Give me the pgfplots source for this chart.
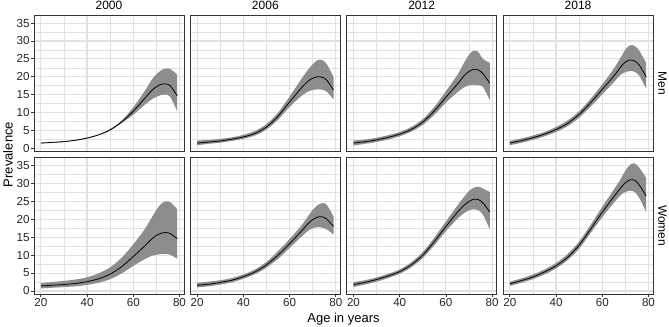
\documentclass[border=0pt]{standalone}
\usepackage{pgfplots}
\pgfplotsset{compat=1.18}
\usepackage{pgfplotstable}
\usepgfplotslibrary{groupplots,fillbetween}
\usepackage{fontspec}
\setmainfont{Liberation Sans}

\definecolor{gridc}{HTML}{E1E1E1}
\definecolor{bordc}{HTML}{333333}
\definecolor{ribbonc}{HTML}{8D8D8D}
\definecolor{tickc}{HTML}{333333}

% prevalence by age: fitted value with lower and upper bound
\pgfplotstableread{
age fit lo hi
20 1.5 1.4 1.6
25 1.7 1.6 1.8
30 1.9 1.8 2.0
35 2.3 2.2 2.4
40 2.9 2.8 3.0
45 3.8 3.7 3.9
50 5.2 5.0 5.4
55 7.4 7.1 7.8
60 10.4 9.4 11.5
65 14.0 12.2 16.1
68 16.2 13.7 19.2
70 17.2 14.4 20.7
72 17.9 14.9 21.8
74 18.0 15.0 22.3
76 17.5 14.4 22.2
79 14.7 10.4 20.6
}\menA
\pgfplotstableread{
age fit lo hi
20 1.5 0.9 2.2
25 1.8 1.3 2.4
30 2.1 1.6 2.7
35 2.6 2.1 3.1
40 3.2 2.7 3.8
45 4.2 3.6 4.9
50 6.0 5.3 6.8
55 9.0 8.0 10.0
60 13.0 11.6 14.5
65 16.8 14.6 19.3
68 18.8 15.9 22.0
70 19.6 16.3 23.5
72 20.0 16.5 24.6
74 19.9 16.4 24.7
76 19.1 15.9 23.6
79 16.3 13.7 20.0
}\menB
\pgfplotstableread{
age fit lo hi
20 1.5 0.8 2.2
25 1.9 1.3 2.5
30 2.4 1.8 3.0
35 3.1 2.5 3.7
40 4.0 3.4 4.6
45 5.3 4.7 6.0
50 7.4 6.6 8.2
55 10.5 9.4 11.6
60 14.3 12.8 16.0
65 18.0 15.7 20.6
68 20.4 17.1 24.1
70 21.5 17.6 26.2
72 22.1 17.8 27.3
74 21.9 17.6 26.9
76 20.9 17.2 25.0
79 18.2 13.5 23.9
}\menC
\pgfplotstableread{
age fit lo hi
20 1.5 0.9 2.1
25 2.2 1.6 2.8
30 3.0 2.4 3.6
35 4.0 3.4 4.6
40 5.3 4.6 6.0
45 7.0 6.2 7.8
50 9.5 8.6 10.4
55 12.8 11.7 13.9
60 16.5 15.1 17.9
65 20.2 18.5 22.3
68 22.8 20.6 25.4
70 24.1 21.3 27.6
72 24.7 21.6 28.8
74 24.4 21.4 28.6
76 23.3 20.3 27.3
79 20.0 16.7 23.9
}\menD
\pgfplotstableread{
age fit lo hi
20 1.4 0.7 2.2
25 1.6 0.9 2.5
30 1.8 1.1 2.8
35 2.1 1.3 3.2
40 2.6 1.7 3.8
45 3.4 2.3 4.9
50 4.7 3.3 6.6
55 6.8 4.9 9.3
60 9.6 7.0 13.0
65 12.6 8.9 17.3
68 14.5 9.8 20.5
70 15.5 10.1 22.6
72 16.1 10.3 24.3
74 16.3 10.3 25.0
76 16.0 10.1 24.8
79 14.6 9.0 22.8
}\womA
\pgfplotstableread{
age fit lo hi
20 1.6 1.0 2.3
25 1.9 1.3 2.6
30 2.4 1.8 3.0
35 3.0 2.4 3.6
40 4.0 3.4 4.6
45 5.3 4.7 6.0
50 7.3 6.5 8.1
55 10.0 9.0 11.1
60 13.2 12.0 14.5
65 16.6 15.1 18.2
68 18.8 16.8 20.9
70 19.9 17.5 22.6
72 20.6 17.8 23.9
74 20.7 17.7 24.5
76 20.1 17.2 24.1
79 18.0 15.8 20.8
}\womB
\pgfplotstableread{
age fit lo hi
20 1.8 1.1 2.5
25 2.4 1.8 3.0
30 3.2 2.6 3.8
35 4.2 3.6 4.8
40 5.4 4.8 6.0
45 7.3 6.6 8.0
50 10.0 9.2 10.9
55 13.8 12.8 14.9
60 18.0 16.7 19.4
65 22.0 20.2 23.9
68 24.0 21.8 26.4
70 25.0 22.5 27.9
72 25.6 22.8 28.8
74 25.5 22.5 29.1
76 24.6 21.3 28.6
79 22.0 17.2 27.6
}\womC
\pgfplotstableread{
age fit lo hi
20 2.0 1.4 2.6
25 2.9 2.3 3.5
30 3.9 3.3 4.6
35 5.3 4.6 6.0
40 7.0 6.3 7.8
45 9.4 8.6 10.3
50 12.8 11.8 13.8
55 17.3 16.2 18.5
60 22.0 20.6 23.5
65 26.3 24.6 28.3
68 28.8 26.8 31.3
70 30.2 27.6 33.6
72 31.0 28.0 35.2
74 30.9 27.6 35.6
76 29.6 26.0 34.4
79 26.5 22.0 31.5
}\womD

\newcommand\panel[1]{%
  \addplot[name path=hi, draw=none, smooth] table[x=age, y=hi] {#1};
  \addplot[name path=lo, draw=none, smooth] table[x=age, y=lo] {#1};
  \addplot[fill=ribbonc, draw=none] fill between[of=hi and lo];
  \addplot[black, line width=0.8pt, smooth] table[x=age, y=fit] {#1};
}

\pgfplotsset{
  every axis title shift=0pt,
  facet/.style={
    width=150pt, height=136.5pt, scale only axis,
    xmin=17.05, xmax=81.95, ymin=-0.85, ymax=37.25,
    xtick={20,40,60,80}, minor xtick={30,50,70},
    ytick={0,5,...,35}, minor ytick={2.5,7.5,...,32.5},
    grid=both,
    major grid style={draw=gridc, line width=1.1pt},
    minor grid style={draw=gridc, line width=0.6pt},
    axis line style={draw=bordc, line width=0.9pt},
    tick pos=left, tick align=outside,
    major tick length=3pt, minor tick length=0pt,
    major tick style={draw=tickc, line width=0.8pt},
    /pgf/number format/assume math mode=true,
    tick label style={font=\fontsize{11.6}{12}\selectfont, text=black!85},
    xticklabel style={inner sep=0pt, yshift=-1.2pt},
    yticklabel style={inner sep=0pt, xshift=-1.2pt},
    title style={at={(0.5,1)}, anchor=base, yshift=5.6pt, inner sep=0pt,
      font=\fontsize{12}{13}\selectfont},
  },
  noyt/.style={ytick style={draw=none}},
  noxt/.style={xtick style={draw=none}},
}

\begin{document}
\begin{tikzpicture}
\begin{groupplot}[
  group style={group size=4 by 2, horizontal sep=6.33pt, vertical sep=6pt,
    xticklabels at=edge bottom, yticklabels at=edge left},
  facet]
\nextgroupplot[title={2000}, noxt]
\panel{\menA}
\nextgroupplot[title={2006}, noxt, noyt]
\panel{\menB}
\nextgroupplot[title={2012}, noxt, noyt]
\panel{\menC}
\nextgroupplot[title={2018}, noxt, noyt]
\panel{\menD}
\nextgroupplot
\panel{\womA}
\nextgroupplot[noyt]
\panel{\womB}
\nextgroupplot[noyt]
\panel{\womC}
\nextgroupplot[noyt]
\panel{\womD}
\end{groupplot}

% facet strips on the right
\node[rotate=-90, font=\fontsize{12}{13}\selectfont]
  at ([xshift=9.5pt]group c4r1.east) {Men};
\node[rotate=-90, font=\fontsize{12}{13}\selectfont]
  at ([xshift=9.5pt]group c4r2.east) {Women};

% axis titles
\path (group c1r1.south west) -- (group c1r2.north west)
  node[midway, xshift=-26pt, rotate=90, font=\fontsize{13}{14}\selectfont] {Prevalence};
\path (group c1r2.south west) -- (group c4r2.south east)
  node[midway, yshift=-28.3pt, anchor=base, font=\fontsize{13}{14}\selectfont] {Age in years};

\pgfresetboundingbox
\path[use as bounding box] ([xshift=-34pt, yshift=15pt]group c1r1.north west)
  rectangle ([xshift=16pt, yshift=-32pt]group c4r2.south east);
\end{tikzpicture}
\end{document}
